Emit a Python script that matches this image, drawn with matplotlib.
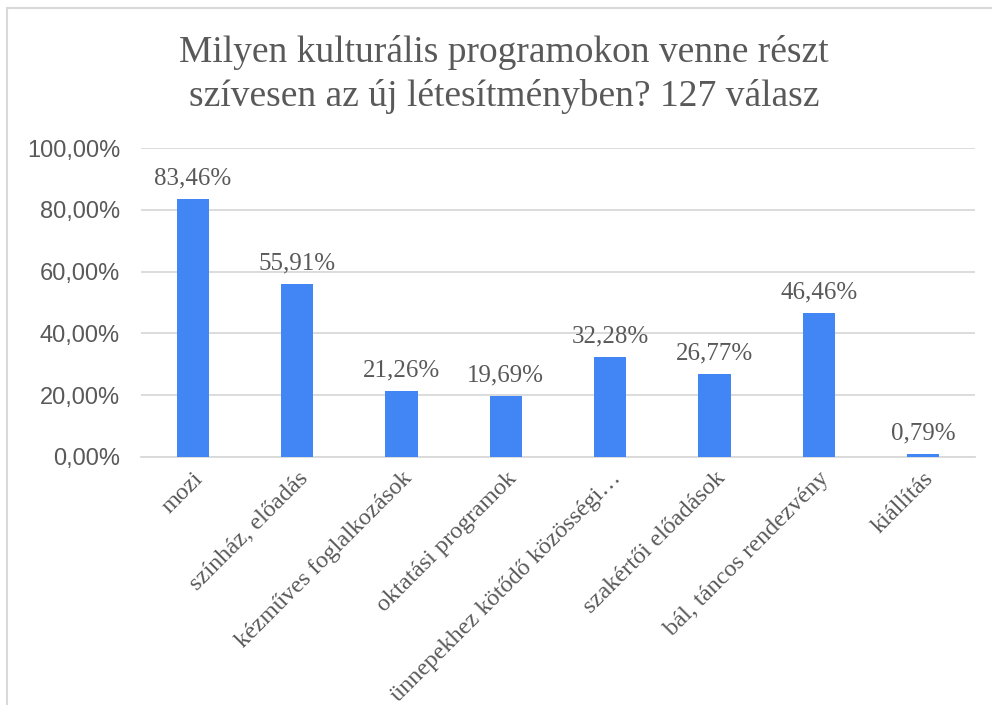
import matplotlib.pyplot as plt
from matplotlib.patches import Rectangle
from matplotlib.ticker import FuncFormatter

# adatok
kategoriak = ['mozi', 'színház, előadás', 'kézműves foglalkozások', 'oktatási programok',
              'ünnepekhez kötődő közösségi…', 'szakértői előadások',
              'bál, táncos rendezvény', 'kiállítás']
ertekek = [83.46, 55.91, 21.26, 19.69, 32.28, 26.77, 46.46, 0.79]
cimkek = ['83,46%', '55,91%', '21,26%', '19,69%', '32,28%', '26,77%', '46,46%', '0,79%']
y_ticks = [0, 20, 40, 60, 80, 100]

szurke = '#595959'
kek = '#4285F4'

fig = plt.figure(figsize=(9.92, 7.05), dpi=100)
ax = fig.add_axes([0.142, 0.352, 0.841, 0.438])

# keret a diagram körül
fig.patches.append(Rectangle((7 / 992, -0.1), 1.2, 1 - 8 / 705 + 0.1, transform=fig.transFigure,
                             fill=False, edgecolor='#D9D9D9', linewidth=1.5))

x = range(len(kategoriak))
bars = ax.bar(x, ertekek, width=0.31, color=kek, zorder=3)
for b, c in zip(bars, cimkek):
    ax.annotate(c, (b.get_x() + b.get_width() / 2, b.get_height()), xytext=(0, 7),
                textcoords='offset points', ha='center', va='bottom',
                family='Liberation Serif', fontsize=18, color=szurke)

ax.set_xlim(-0.5, len(kategoriak) - 0.5)
ax.set_ylim(0, 100)
ax.set_yticks(y_ticks)
ax.yaxis.set_major_formatter(FuncFormatter(lambda v, p: f'{v:.2f}%'.replace('.', ',')))
ax.grid(axis='y', color='#D9D9D9', linewidth=1.3, zorder=0)
for s in ['top', 'right', 'left']:
    ax.spines[s].set_visible(False)
ax.spines['bottom'].set_color('#D9D9D9')
ax.spines['bottom'].set_linewidth(1.3)
ax.tick_params(axis='y', length=0, pad=15, labelsize=17, labelcolor=szurke)
ax.tick_params(axis='x', length=0, pad=8)
for t in ax.get_yticklabels():
    t.set_family('Liberation Sans')

ax.set_xticks(list(x))
ax.set_xticklabels(kategoriak, rotation=45, ha='right', va='top', rotation_mode='anchor',
                   family='Liberation Serif', fontsize=17.5, color=szurke)

fig.text(0.508, 0.894, 'Milyen kulturális programokon venne részt\nszívesen az új létesítményben? 127 válasz',
         ha='center', va='center', family='Liberation Serif', fontsize=27, color=szurke,
         linespacing=1.32)

fig.savefig('out.png', dpi=100)
